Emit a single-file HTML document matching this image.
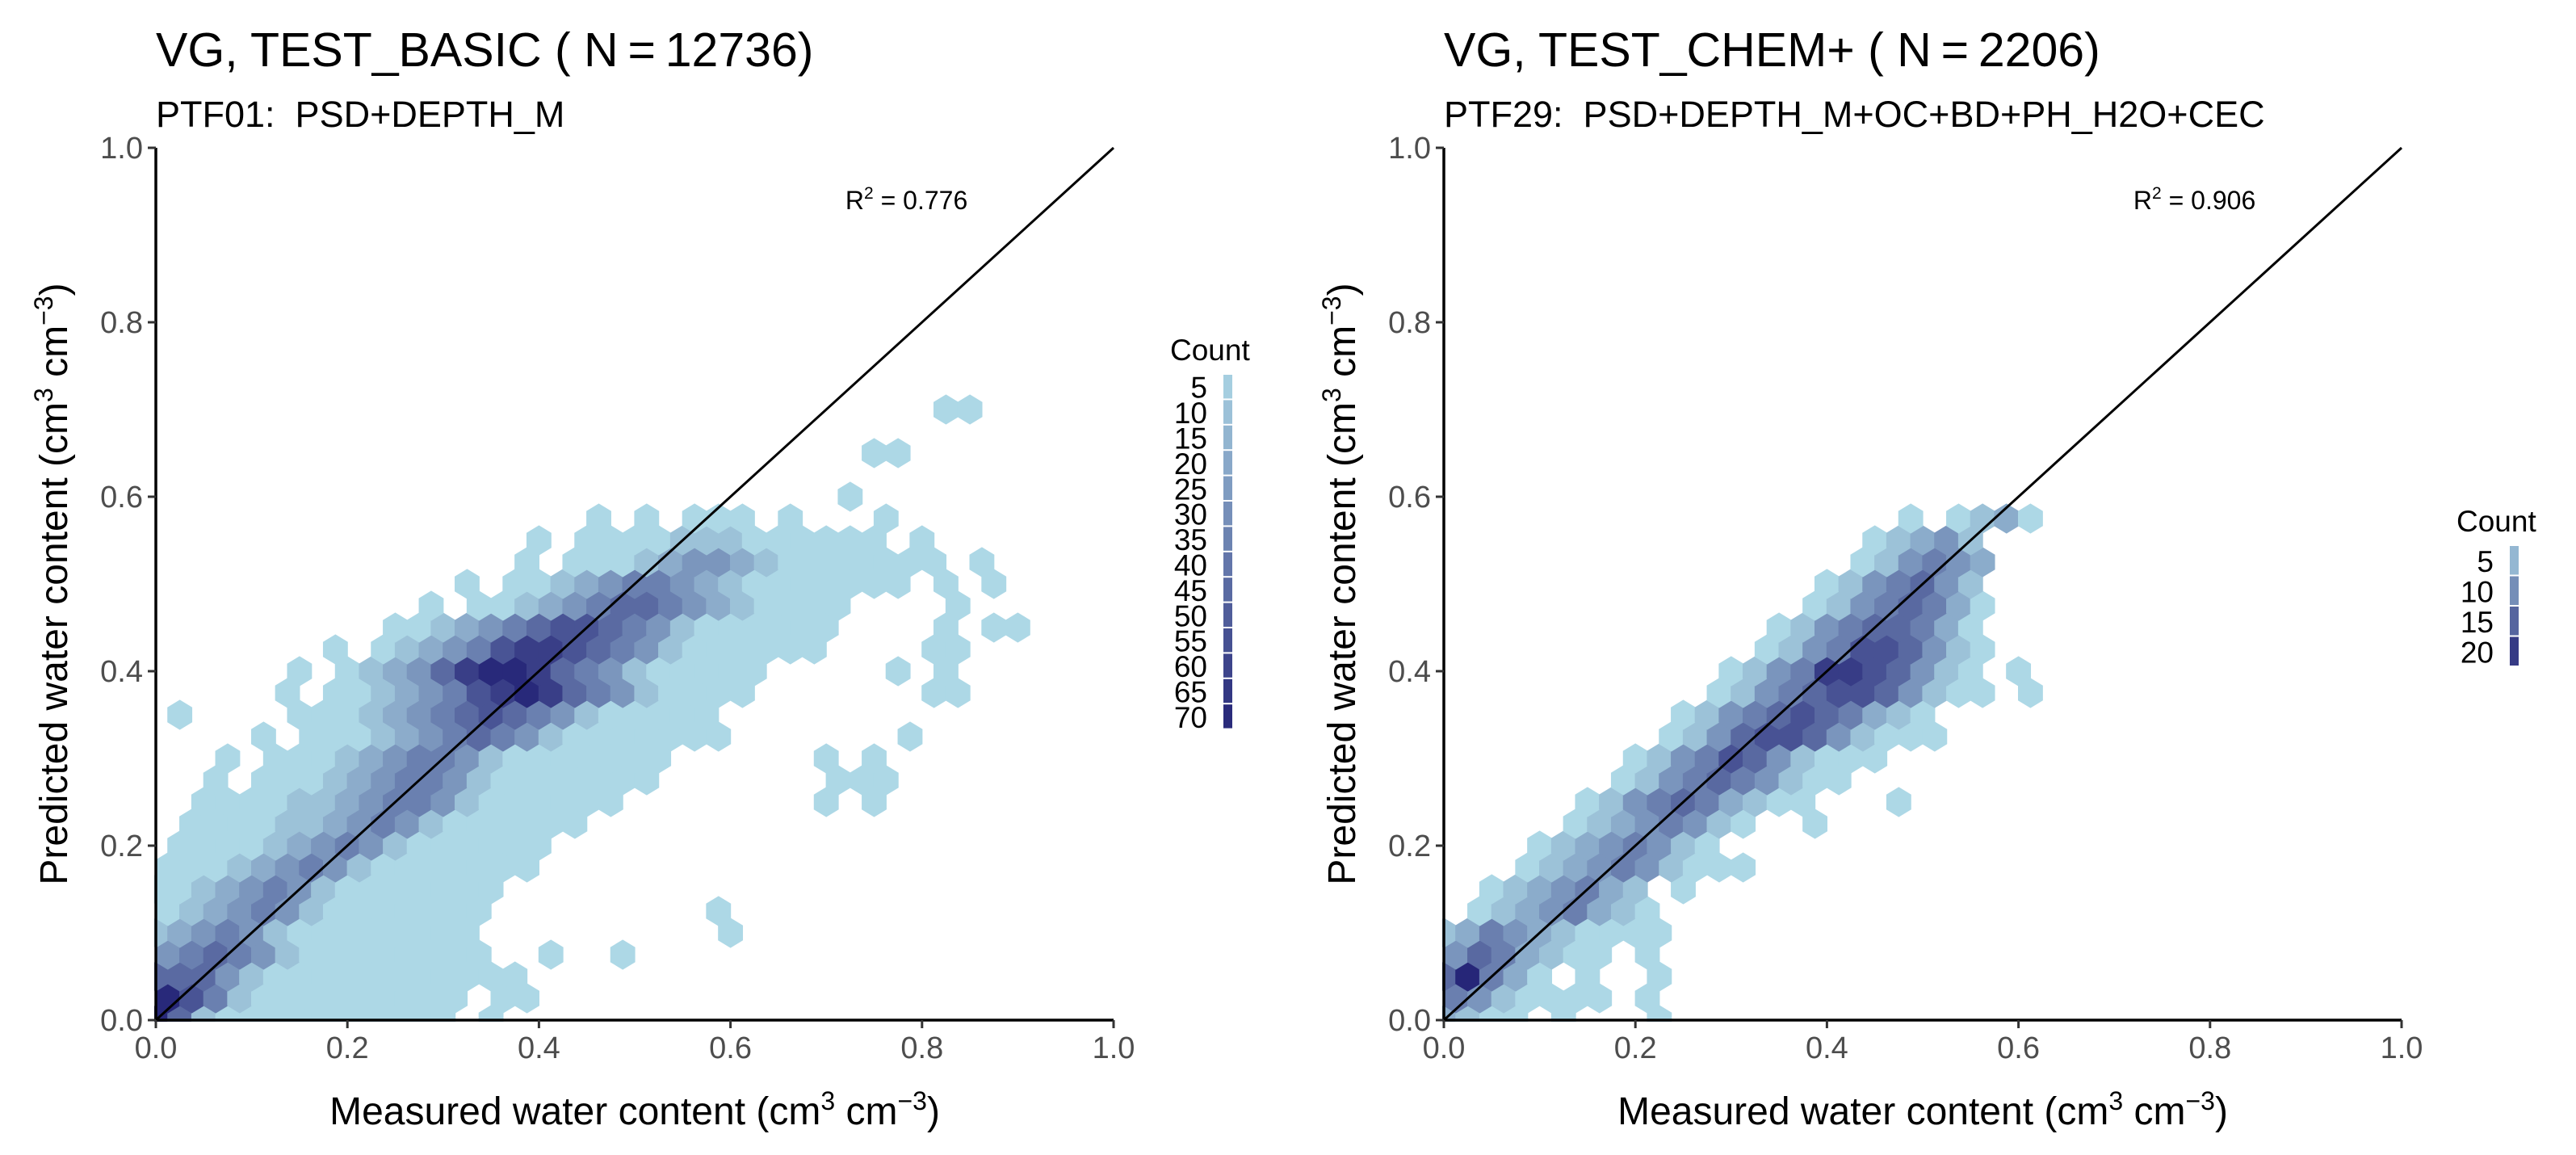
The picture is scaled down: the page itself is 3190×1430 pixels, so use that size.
<!DOCTYPE html>
<html><head><meta charset="utf-8"><style>
html,body{margin:0;padding:0;background:#fff;}
svg{display:block;font-family:"Liberation Sans",Arial,sans-serif;}
text{white-space:pre;}
</style></head><body>
<svg id="chart" width="3190" height="1430" viewBox="0 0 3190 1430" xmlns="http://www.w3.org/2000/svg"></svg>
<script>
// ---- data (hexbin density levels per row; row k => y = k*0.025, char i => x = i*0.025; '.' = empty) ----
const leftRows = [
"9621111111111.1",
"9752111111111.11",
"6664211111111111",
"45654211111111..1..1",
"23454211111111..........1",
"12345421111111.........1",
"112345421111111",
"1112345421111111",
".1111234542111111",
".11112234542111111",
"..111122345542111111........1.1",
"..1.11123455421111111.......111",
"...1.11123455421111111......1.1",
"....1.111234565421111111.......1",
".1....111234567654211111",
".....1.112345789865421111.......11",
"......1.123468998654211111.....1.1",
".......1.1234578876542111111....11",
"..........1123456776542111111....1.11",
"...........1.1123456654321111....1",
".............1.11234554321111111.1.1",
"...............1.1112344321111111.1",
"................1.1111222111111.1",
"..................1.1.111.1...1",
".............................1",
"",
"..............................11",
"",
".................................11"
];
const rightRows = [
"3211.1...1",
"5421111.1",
"69531.1..1",
"4653211.1",
"2354321111",
".12345321",
"..1234532.1",
"...1234542111",
"....12345421",
".....12345421..1",
"......1245653211...1",
".......1245654211",
"........12457642111",
".........124677642111",
"..........12456765321",
"...........124567764211.1",
"............12458876421.1",
".............1245776421",
"..............124566531",
"...............12456531",
"................1245642",
".................124543",
"..................12342",
"...................1.1231"
];
const leftCountPerLevel = 8.75;
const rightCountPerLevel = 2.7;
const leftLegendBreaks = [5,10,15,20,25,30,35,40,45,50,55,60,65,70];
const rightLegendBreaks = [5,10,15,20];
const axisTicks = [0,0.2,0.4,0.6,0.8,1.0];
const axisTickLabels = ["0.0","0.2","0.4","0.6","0.8","1.0"];
const r2Values = ["0.776","0.906"];
const titles = ["VG, TEST_BASIC ( N\u2009=\u200912736)","VG, TEST_CHEM+ ( N\u2009=\u20092206)"];
const subtitles = ["PTF01:  PSD+DEPTH_M","PTF29:  PSD+DEPTH_M+OC+BD+PH_H2O+CEC"];

const NS="http://www.w3.org/2000/svg";
const svg=document.getElementById('chart');
function mk(tag,attrs,parent){const e=document.createElementNS(NS,tag);for(const k in attrs)e.setAttribute(k,attrs[k]);(parent||svg).appendChild(e);return e;}
const lo=[173,216,230], hi=[38,38,120];
function col(c,cmin,cmax){let t=(c-cmin)/(cmax-cmin);t=Math.max(0,Math.min(1,t));
  const r=lo.map((v,i)=>Math.round(v+(hi[i]-v)*t));return `rgb(${r[0]},${r[1]},${r[2]})`;}

function panel(p){
  const g=mk('g',{});
  
  
  const X=v=>p.x0+v*(p.x1-p.x0), Y=v=>p.y0-v*(p.y0-p.y1);
  const d=0.025, w=X(d)-X(0), h=(Y(0)-Y(d))/0.75;
  const hexG=mk('g',{},g);
  
  
  p.rows.forEach((row,k)=>{
    for(let i=0;i<row.length;i++){
      const ch=row[i]; if(ch==='.')continue;
      const c=1+(parseInt(ch)-1)*p.cpl;
      let cx=X(i*d+(k%2?d/2:0)), cy=Y(k*d);
      if(cx>p.x1)continue;
      const hw=w/2+0.6, hh=h/2+0.6;
      const pts=[[cx,cy-hh],[cx+hw,cy-hh/2],[cx+hw,cy+hh/2],[cx,cy+hh],[cx-hw,cy+hh/2],[cx-hw,cy-hh/2]];
      const poly=mk('polygon',{points:pts.map(q=>q.join(',')).join(' '),fill:col(c,1,p.cmax)},hexG);
      
      
    }
  });
  mk('rect',{x:p.x0-60,y:p.y0+2,width:p.x1-p.x0+80,height:40,fill:'#fff'},g);
  mk('rect',{x:p.x0-60,y:p.y1,width:58,height:p.y0-p.y1+40,fill:'#fff'},g);
  const diag=mk('line',{x1:X(0),y1:Y(0),x2:X(1),y2:Y(1),stroke:'#000','stroke-width':3},g);
  
  
  const xa=mk('line',{x1:p.x0,y1:p.y0,x2:p.x1,y2:p.y0,stroke:'#000','stroke-width':3.5},g);
  
  
  const ya=mk('line',{x1:p.x0,y1:p.y0,x2:p.x0,y2:p.y1,stroke:'#000','stroke-width':3.5},g);
  
  
  axisTicks.forEach((v,i)=>{
    mk('line',{x1:X(v),y1:p.y0,x2:X(v),y2:p.y0+10,stroke:'#333','stroke-width':3},g);
    mk('line',{x1:p.x0-10,y1:Y(v),x2:p.x0,y2:Y(v),stroke:'#333','stroke-width':3},g);
    const tx=mk('text',{x:X(v),y:p.y0+47,'text-anchor':'middle','font-size':38,fill:'#4d4d4d'},g);
    tx.textContent=axisTickLabels[i];
    
    
    const ty=mk('text',{x:p.x0-16,y:Y(v)+13,'text-anchor':'end','font-size':38,fill:'#4d4d4d'},g);
    ty.textContent=axisTickLabels[i];
    
    
  });
  const xt=mk('text',{x:(p.x0+p.x1)/2,y:1392,'text-anchor':'middle','font-size':48},g);
  xt.innerHTML='Measured water content (cm<tspan dy="-18" font-size="32">3</tspan><tspan dy="18"> cm</tspan><tspan dy="-18" font-size="32">\u22123</tspan><tspan dy="18">)</tspan>';
  
  
  const yt=mk('text',{x:0,y:0,'text-anchor':'middle','font-size':48,transform:`translate(${p.x0-110},${(p.y0+p.y1)/2}) rotate(-90)`},g);
  yt.innerHTML='Predicted water content (cm<tspan dy="-18" font-size="32">3</tspan><tspan dy="18"> cm</tspan><tspan dy="-18" font-size="32">\u22123</tspan><tspan dy="18">)</tspan>';
  
  
  const t=mk('text',{x:p.x0,y:82,'font-size':59},g);
  t.textContent=p.title;
  
  
  const st=mk('text',{x:p.x0,y:157,'font-size':45},g);
  st.textContent=p.subtitle;
  
  
  const r2=mk('text',{x:X(0.72),y:259,'font-size':32},g);
  r2.innerHTML='R<tspan dy="-13" font-size="21">2</tspan><tspan dy="13"> = '+p.r2+'</tspan>';
  
  
  const lg=mk('g',{},g);
  
  
  const lt=mk('text',{x:p.lx-66,y:p.ly-18,'font-size':37},lg);
  lt.textContent='Count';
  
  
  p.breaks.forEach((b,i)=>{
    const yy=p.ly+i*p.seg;
    const r=mk('rect',{x:p.lx,y:yy,width:11,height:p.seg-2,fill:col(b,1,p.cmax)},lg);
    
    
    const l=mk('text',{x:p.lx-20,y:yy+p.seg/2+13,'text-anchor':'end','font-size':37},lg);
    l.textContent=b;
    
    
  });
}
panel({name:'panel-test-basic',x0:193,x1:1379,y0:1263,y1:183,rows:leftRows,cpl:leftCountPerLevel,cmax:72,
  title:titles[0],subtitle:subtitles[0],r2:r2Values[0],breaks:leftLegendBreaks,lx:1515,ly:464,seg:31.4});
panel({name:'panel-test-chem',x0:1788,x1:2974,y0:1263,y1:183,rows:rightRows,cpl:rightCountPerLevel,cmax:22.6,
  title:titles[1],subtitle:subtitles[1],r2:r2Values[1],breaks:rightLegendBreaks,lx:3108,ly:676,seg:37.5});
</script>
</body></html>
